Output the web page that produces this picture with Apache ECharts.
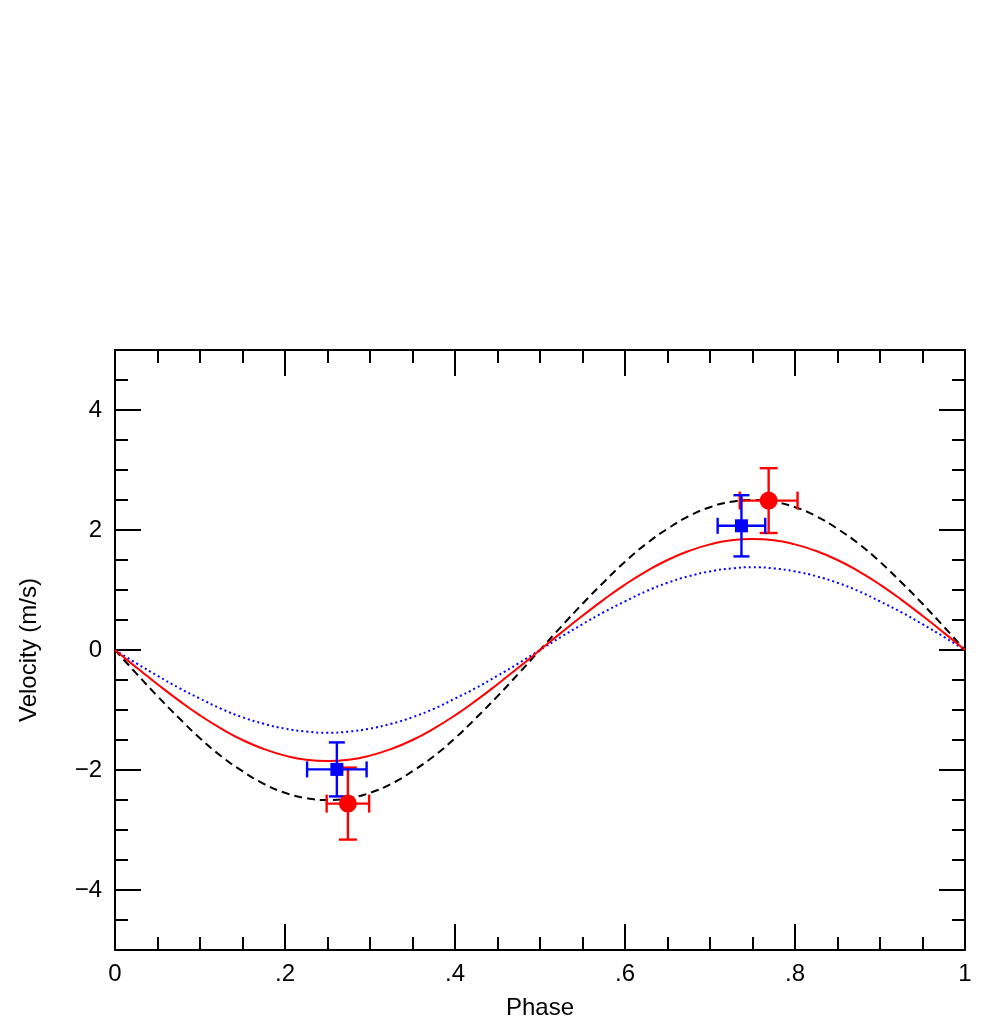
<!DOCTYPE html>
<html><head><meta charset="utf-8">
<script src="https://cdn.jsdelivr.net/npm/echarts@6/dist/echarts.min.js"></script>
<style>html,body{margin:0;padding:0;background:#fff}#c{width:1007px;height:1031px}</style>
</head><body><div id="c"></div>
<script>
// phase grid for model curves
const phase = [0,0.025,0.05,0.075,0.1,0.125,0.15,0.175,0.2,0.225,0.25,0.275,0.3,0.325,0.35,0.375,0.4,0.425,0.45,0.475,0.5,
               0.525,0.55,0.575,0.6,0.625,0.65,0.675,0.7,0.725,0.75,0.775,0.8,0.825,0.85,0.875,0.9,0.925,0.95,0.975,1];
const blackCurve = [0,-0.39,-0.77,-1.13,-1.47,-1.77,-2.02,-2.23,-2.38,-2.47,-2.5,-2.47,-2.38,-2.23,-2.02,-1.77,-1.47,-1.13,-0.77,-0.39,0,
                    0.39,0.77,1.13,1.47,1.77,2.02,2.23,2.38,2.47,2.5,2.47,2.38,2.23,2.02,1.77,1.47,1.13,0.77,0.39,0];
const redCurve   = [0,-0.29,-0.57,-0.84,-1.09,-1.31,-1.50,-1.65,-1.76,-1.83,-1.85,-1.83,-1.76,-1.65,-1.50,-1.31,-1.09,-0.84,-0.57,-0.29,0,
                    0.29,0.57,0.84,1.09,1.31,1.50,1.65,1.76,1.83,1.85,1.83,1.76,1.65,1.50,1.31,1.09,0.84,0.57,0.29,0];
const blueCurve  = [0,-0.22,-0.43,-0.63,-0.81,-0.98,-1.12,-1.23,-1.31,-1.36,-1.38,-1.36,-1.31,-1.23,-1.12,-0.98,-0.81,-0.63,-0.43,-0.22,0,
                    0.22,0.43,0.63,0.81,0.98,1.12,1.23,1.31,1.36,1.38,1.36,1.31,1.23,1.12,0.98,0.81,0.63,0.43,0.22,0];
// data points: phase, velocity, phase error, velocity error
const redX = [0.274, 0.769];
const redY = [-2.56, 2.49];
const redXErr = [0.025, 0.034];
const redYErr = [0.60, 0.54];
const blueX = [0.261, 0.737];
const blueY = [-1.99, 2.07];
const blueXErr = [0.035, 0.028];
const blueYErr = [0.45, 0.51];
const yMajor = [-4,-2,0,2,4];

const zip = (a,b) => a.map((v,i)=>[v,b[i]]);
const pts = (x,y,ex,ey) => x.map((v,i)=>[v,y[i],ex[i],ey[i]]);

function errRender(color, cap){
  return function(params, api){
    const x = api.value(0), y = api.value(1), ex = api.value(2), ey = api.value(3);
    const l = api.coord([x-ex,y]), r = api.coord([x+ex,y]);
    const t = api.coord([x,y+ey]), b = api.coord([x,y-ey]);
    const st = {stroke:color, lineWidth:2.4};
    const h = cap/2;
    return {type:'group', children:[
      {type:'line', shape:{x1:l[0],y1:l[1],x2:r[0],y2:r[1]}, style:st},
      {type:'line', shape:{x1:t[0],y1:t[1],x2:b[0],y2:b[1]}, style:st},
      {type:'line', shape:{x1:l[0],y1:l[1]-h,x2:l[0],y2:l[1]+h}, style:st},
      {type:'line', shape:{x1:r[0],y1:r[1]-h,x2:r[0],y2:r[1]+h}, style:st},
      {type:'line', shape:{x1:t[0]-h,y1:t[1],x2:t[0]+h,y2:t[1]}, style:st},
      {type:'line', shape:{x1:b[0]-h,y1:b[1],x2:b[0]+h,y2:b[1]}, style:st}
    ]};
  };
}

const font = 'Liberation Sans, Arial, Helvetica, sans-serif';
const lineStyle = {color:'#000', width:2};
function xAx(pos, major, labels){
  return {type:'value', position:pos, min:0, max:1, interval: major?0.2:0.05,
    axisLine:{show: major, onZero:false, lineStyle},
    axisTick:{show:true, inside:true, length: major?26:13, lineStyle},
    axisLabel:{show: labels, margin:12, fontSize:24, color:'#000', fontFamily:font,
      formatter: v => v===0?'0':(v===1?'1':('.'+Math.round(v*10)))},
    splitLine:{show:false},
    name: labels?'Phase':'', nameLocation:'middle', nameGap:46,
    nameTextStyle:{fontSize:24, color:'#000', fontFamily:font}};
}
function yAx(pos, major, labels){
  const a = {type:'value', position:pos, min:-5, max:5, interval:0.5,
    axisLine:{show: major, onZero:false, lineStyle},
    axisTick:{show:true, inside:true, length: major?26:13, lineStyle},
    axisLabel:{show: labels, margin:13, fontSize:24, color:'#000', fontFamily:font,
      formatter: v => v<0 ? '\u2212'+Math.abs(v) : String(v)},
    splitLine:{show:false},
    name: labels?'Velocity (m/s)':'', nameLocation:'middle', nameGap:74,
    nameTextStyle:{fontSize:24, color:'#000', fontFamily:font}};
  if (major){ a.axisTick.customValues = yMajor; a.axisLabel.customValues = yMajor; }
  return a;
}

const chart = echarts.init(document.getElementById('c'), null, {renderer:'canvas'});
chart.setOption({
  animation:false,
  backgroundColor:'#fff',
  grid:{left:115, right:42, top:350, bottom:81, containLabel:false},
  xAxis:[xAx('bottom',true,true), xAx('bottom',false,false), xAx('top',true,false), xAx('top',false,false)],
  yAxis:[yAx('left',true,true), yAx('left',false,false), yAx('right',true,false), yAx('right',false,false)],
  series:[
    {type:'line', data:zip(phase,blackCurve), smooth:true, symbol:'none',
      lineStyle:{color:'#000', width:2, type:[8,5]}},
    {type:'line', data:zip(phase,blueCurve), smooth:true, symbol:'none',
      lineStyle:{color:'#0000ff', width:2, type:[2,3]}},
    {type:'line', data:zip(phase,redCurve), smooth:true, symbol:'none',
      lineStyle:{color:'#ff0000', width:2}},
    {type:'custom', renderItem: errRender('#ff0000',18), data: pts(redX,redY,redXErr,redYErr), z:5},
    {type:'custom', renderItem: errRender('#0000ff',16), data: pts(blueX,blueY,blueXErr,blueYErr), z:6},
    {type:'scatter', data: zip(blueX,blueY), symbol:'rect', symbolSize:13,
      itemStyle:{color:'#0000ff', opacity:1}, z:7},
    {type:'scatter', data: zip(redX,redY), symbol:'circle', symbolSize:18,
      itemStyle:{color:'#ff0000', opacity:1}, z:8}
  ]
});
</script></body></html>
